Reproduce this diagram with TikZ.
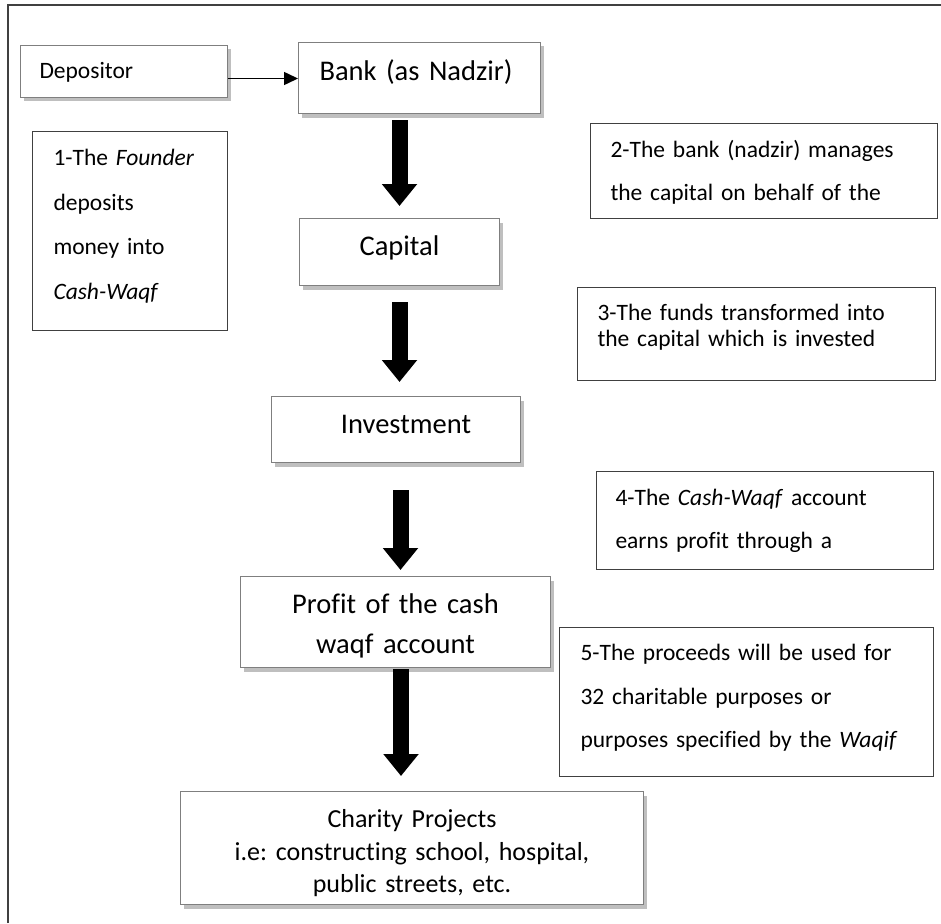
\documentclass[tikz,border=0pt]{standalone}
\usepackage{fontspec}
\setmainfont{Carlito}[Ligatures=NoCommon]
\usetikzlibrary{arrows.meta,shadows,calc}
\definecolor{boxline}{HTML}{7F7F7F}
\definecolor{stepline}{HTML}{404040}
\definecolor{shadowgray}{HTML}{BFBFBF}
\definecolor{framegray}{HTML}{404040}
\tikzset{
  flowbox/.style={draw=boxline, line width=1pt, fill=white, inner ysep=0pt, anchor=north west,
    general shadow={fill=shadowgray, shadow xshift=3.5pt, shadow yshift=-4pt}},
  stepbox/.style={draw=stepline, line width=1pt, fill=white, inner ysep=0pt, anchor=north west, align=left},
  bigarrow/.style={line width=16pt, -{Triangle[width=34pt,length=22pt]}},
  thinarrow/.style={line width=1.5pt, -{Triangle[width=13pt,length=14pt]}},
  frameline/.style={draw=framegray, line width=1.5pt}
}
\frenchspacing
\begin{document}
\begin{tikzpicture}[x=1pt,y=-1pt]
\useasboundingbox (0,0) rectangle (941,923);
\draw[frameline] (8,923) -- (8,5) -- (941,5);

% main flow boxes
\node[flowbox, align=left, inner xsep=19pt, text width=169pt, text height=33pt, text depth=19pt,
  font=\fontsize{23.5}{28}\selectfont] (depositor) at (20,45) {\mbox{Depositor}};
\node[flowbox, align=left, inner xsep=21pt, text width=200pt, text height=38pt, text depth=33pt,
  font=\fontsize{28.5}{34}\selectfont] (bank) at (298,42) {\mbox{Bank (as Nadzir)}};
\node[flowbox, align=center, inner xsep=0pt, text width=200pt, text height=37pt, text depth=30pt,
  font=\fontsize{28.5}{34}\selectfont] (capital) at (299,218) {Capital};
\node[flowbox, align=center, inner xsep=0pt, text width=249pt, text height=37pt, text depth=29pt,
  font=\fontsize{28.5}{34}\selectfont] (investment) at (271,396) {\hspace*{20pt}Investment};
\node[flowbox, align=center, inner xsep=0pt, text width=310pt, text height=37pt, text depth=54pt,
  font=\fontsize{28.5}{40}\selectfont] (profit) at (240,576) {Profit of the cash\\waqf account};
\node[flowbox, align=center, inner xsep=0pt, text width=463pt, text height=36pt, text depth=77pt,
  font=\fontsize{26}{32.5}\selectfont] (charity) at (180,791)
  {Charity Projects\\i.e: constructing school, hospital,\\public streets, etc.};

% explanation boxes
\node[stepbox, inner xsep=21pt, text width=153pt, text height=34pt, text depth=165pt,
  font=\fontsize{23.5}{44.5}\selectfont] (step1) at (32,131)
  {\mbox{1-The \textit{Founder}}\\\mbox{deposits}\\\mbox{money into}\\\mbox{\textit{Cash-Waqf}}};
\node[stepbox, inner xsep=20pt, text width=307pt, text height=34pt, text depth=61pt,
  font=\fontsize{23.5}{43}\selectfont] (step2) at (590,123)
  {\mbox{2-The bank (nadzir) manages}\\\mbox{the capital on behalf of the}};
\node[stepbox, inner xsep=20pt, text width=318pt, text height=33pt, text depth=60pt,
  font=\fontsize{23.5}{26}\selectfont] (step3) at (577,287)
  {\mbox{3-The funds transformed into}\\\mbox{the capital which is invested}};
\node[stepbox, inner xsep=19pt, text width=299pt, text height=34pt, text depth=64pt,
  font=\fontsize{23.5}{43}\selectfont] (step4) at (596,471)
  {\mbox{4-The \textit{Cash-Waqf} account}\\\mbox{earns profit through a}};
\node[stepbox, inner xsep=21pt, text width=332pt, text height=33pt, text depth=116pt,
  font=\fontsize{23.5}{43.5}\selectfont] (step5) at (559,627)
  {\mbox{5-The proceeds will be used for}\\\mbox{32 charitable purposes or}\\\mbox{purposes specified by the \textit{Waqif}}};

% connectors
\coordinate (depout) at ($(depositor.east)+(0,7)$);
\draw[thinarrow] (depout) -- (depout -| bank.west);
\draw[bigarrow] ($(bank.south -| capital.north)+(0,6)$) -- ($(capital.north)+(0,-12)$);
\draw[bigarrow] ($(capital.south)+(0,16)$) -- ($(investment.north -| capital.south)+(0,-14)$);
\draw[bigarrow] ($(investment.south)+(4.5,27)$) -- ($(profit.north)+(5,-6)$);
\draw[bigarrow] ($(profit.south)+(5.5,1)$) -- ($(charity.north)+(-11,-15)$);
\end{tikzpicture}
\end{document}
